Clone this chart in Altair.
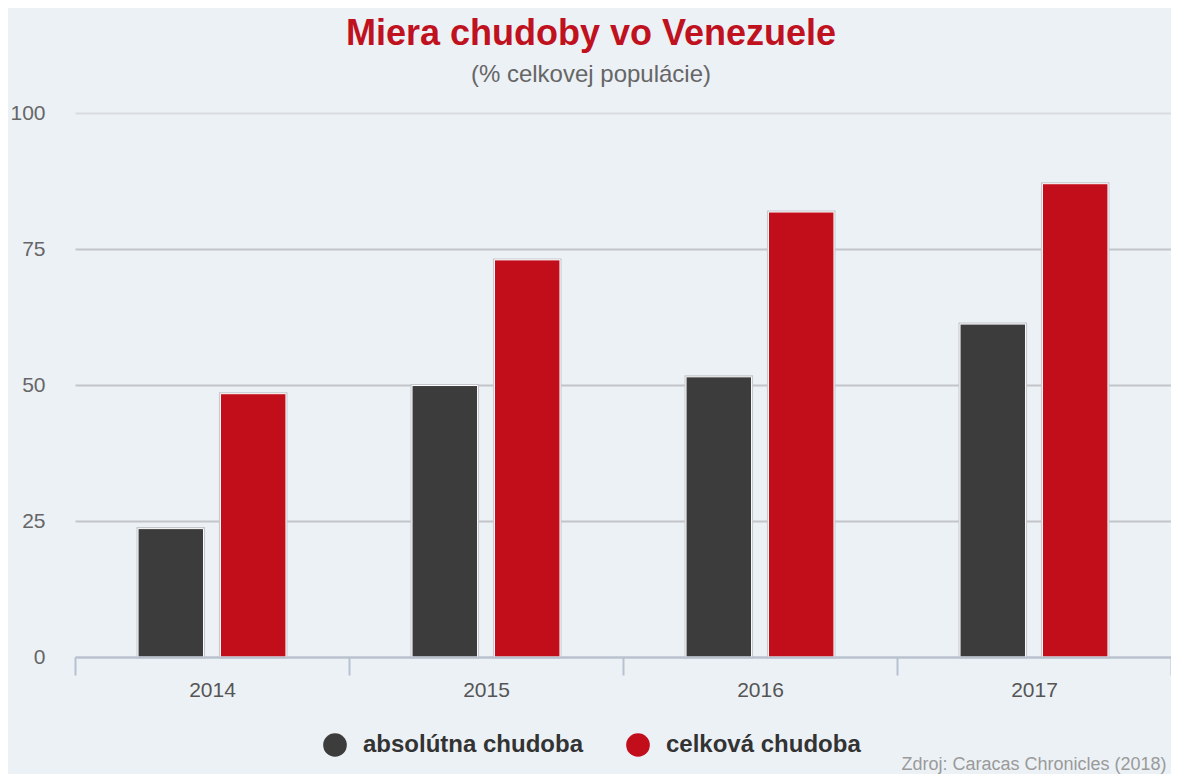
import altair as alt
import pandas as pd

years = ["2014", "2015", "2016", "2017"]
series = ["absolútna chudoba", "celková chudoba"]
absolutna = [23.6, 49.9, 51.5, 61.2]
celkova = [48.4, 73.0, 81.8, 87.0]
y_ticks = [0, 25, 50, 75, 100]

rows = []
for i, yr in enumerate(years):
    rows.append({"rok": yr, "typ": series[0], "hodnota": absolutna[i]})
    rows.append({"rok": yr, "typ": series[1], "hodnota": celkova[i]})
df = pd.DataFrame(rows)

W, H = 1096, 544
FONT = "Liberation Sans"

x_enc = alt.X(
    "rok:N",
    sort=years,
    scale=alt.Scale(paddingInner=0, paddingOuter=0),
    axis=alt.Axis(
        title="Zdroj: Caracas Chronicles (2018)",
        labelAngle=0, labelFontSize=21, labelColor="#555555", labelPadding=4,
        domainColor="#b7c1d0", domainWidth=2,
        tickColor="#b7c1d0", tickWidth=2, tickSize=18, tickBand="extent",
        titleX=826, titleY=107, titleAlign="left", titleBaseline="middle",
        titleFontSize=18, titleFontWeight="normal", titleColor="#9a9a9a",
        titleLimit=400,
        grid=False, zindex=1,
    ),
)
y_enc = alt.Y(
    "hodnota:Q",
    scale=alt.Scale(domain=[0, 100]),
    axis=alt.Axis(
        values=y_ticks, title=None, domain=False, ticks=False,
        labelFontSize=21, labelColor="#666666", labelPadding=30,
        gridColor={"condition": {"test": "datum.value === 100", "value": "#d9dcdf"}, "value": "#c2c5c9"},
        gridWidth=2,
    ),
)
xoff = alt.XOffset("typ:N", sort=series, scale=alt.Scale(paddingInner=0.205, paddingOuter=0.765))
color = alt.Color(
    "typ:N",
    scale=alt.Scale(domain=series, range=["#3c3c3c", "#c20e1a"]),
    legend=alt.Legend(
        orient="none", legendX=248, legendY=620, direction="horizontal", title=None,
        symbolType="circle", symbolSize=560, symbolStrokeWidth=0, symbolOpacity=1,
        labelFontSize=24, labelFontWeight="bold", labelColor="#333333",
        labelLimit=0, columnPadding=42, labelOffset=16,
    ),
)

base = alt.Chart(df).encode(x=x_enc, y=y_enc, xOffset=xoff, color=color)
outer = base.mark_bar(stroke="#c3c7cc", strokeWidth=3)
inner = base.mark_bar(stroke="white", strokeWidth=1)

chart = (
    alt.layer(outer, inner)
    .properties(
        width=W, height=H,
        autosize=alt.AutoSizeParams(type="none"),
        padding={"left": 67, "top": 105, "right": 0, "bottom": 117},
        background="#ecf1f6",
        title=alt.Title(
            "Miera chudoby vo Venezuele",
            subtitle="(% celkovej populácie)",
            fontSize=36, fontWeight="bold", color="#c0121e",
            subtitleFontSize=24, subtitleColor="#666666",
            anchor="middle", frame="bounds", offset=14, subtitlePadding=10,
        ),
    )
    .configure(font=FONT)
    .configure_view(stroke=None)
)

chart.save("out.html", embed_options={"renderer": "svg", "actions": False})
